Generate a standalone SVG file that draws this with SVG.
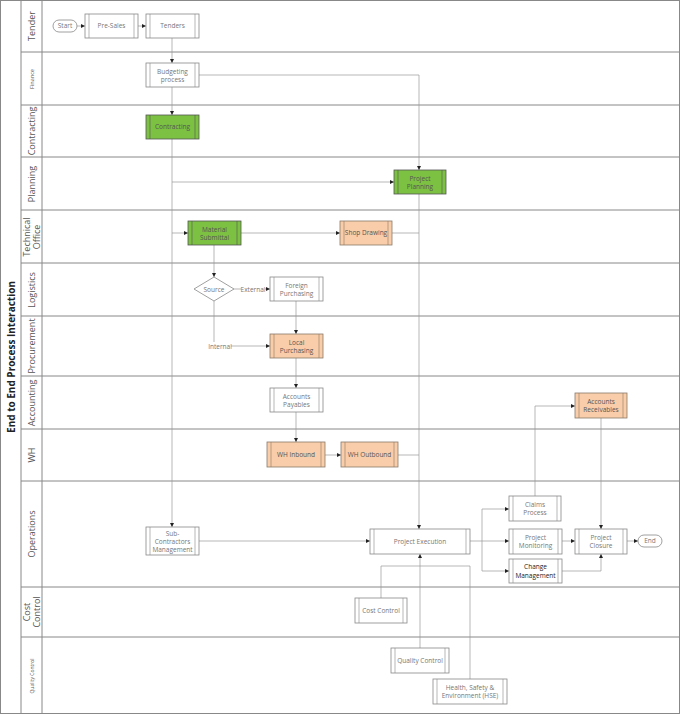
<svg xmlns="http://www.w3.org/2000/svg" width="680" height="714" viewBox="0 0 680 714">
<style>
text{font-family:"Open Sans","Liberation Sans",sans-serif;fill:#777;font-size:6.5px;text-anchor:middle}
.lane{fill:none;stroke:#888;stroke-width:1}
.ll{font-size:9px;fill:#555}
.p{fill:#fff;stroke:#888;stroke-width:0.8}
.g{fill:#7cc142;stroke:#555;stroke-width:0.8}
.o{fill:#f9cda9;stroke:#8a7a6a;stroke-width:0.8}
.c line,.c polyline{fill:none;stroke:#999;stroke-width:0.7}
.ar{marker-end:url(#a)}
.dk{fill:#555}
</style>
<defs>
<marker id="a" markerWidth="4" markerHeight="4" refX="4" refY="2" orient="auto" markerUnits="userSpaceOnUse"><path d="M0,0L4,2L0,4Z" fill="#222"/></marker>
</defs>
<rect width="680" height="714" fill="#fff"/>
<g id="lanes">
<rect x="0.5" y="0.5" width="679" height="713" class="lane"/>
<line x1="21" y1="0" x2="21" y2="714" class="lane"/>
<line x1="42" y1="0" x2="42" y2="714" class="lane"/>
<line x1="21" y1="52" x2="680" y2="52" class="lane"/>
<line x1="21" y1="105" x2="680" y2="105" class="lane"/>
<line x1="21" y1="157" x2="680" y2="157" class="lane"/>
<line x1="21" y1="210" x2="680" y2="210" class="lane"/>
<line x1="21" y1="263" x2="680" y2="263" class="lane"/>
<line x1="21" y1="316" x2="680" y2="316" class="lane"/>
<line x1="21" y1="376" x2="680" y2="376" class="lane"/>
<line x1="21" y1="429" x2="680" y2="429" class="lane"/>
<line x1="21" y1="481" x2="680" y2="481" class="lane"/>
<line x1="21" y1="587" x2="680" y2="587" class="lane"/>
<line x1="21" y1="637" x2="680" y2="637" class="lane"/>
<text transform="translate(14.5,357) rotate(-90)" style="font-size:10px;font-weight:bold;fill:#222">End to End Process Interaction</text>
<text class="ll" transform="translate(35,26) rotate(-90)">Tender</text>
<text class="ll" transform="translate(33.5,79) rotate(-90)" style="font-size:5.5px">Finance</text>
<text class="ll" transform="translate(35,131) rotate(-90)">Contracting</text>
<text class="ll" transform="translate(35,184) rotate(-90)">Planning</text>
<text class="ll" transform="translate(30,237) rotate(-90)">Technical</text>
<text class="ll" transform="translate(39.5,237) rotate(-90)">Office</text>
<text class="ll" transform="translate(35,290) rotate(-90)">Logistics</text>
<text class="ll" transform="translate(35,346) rotate(-90)">Procurement</text>
<text class="ll" transform="translate(35,403) rotate(-90)">Accounting</text>
<text class="ll" transform="translate(35,455) rotate(-90)">WH</text>
<text class="ll" transform="translate(35,534) rotate(-90)">Operations</text>
<text class="ll" transform="translate(30,612) rotate(-90)">Cost</text>
<text class="ll" transform="translate(39.5,612) rotate(-90)">Control</text>
<text class="ll" transform="translate(33.5,676) rotate(-90)" style="font-size:5px">Quality Control</text>
</g>
<g class="c">
<line x1="77" y1="26" x2="85" y2="26" class="ar"/>
<line x1="138" y1="26" x2="146" y2="26" class="ar"/>
<line x1="172" y1="38" x2="172" y2="63" class="ar"/>
<line x1="172" y1="87" x2="172" y2="115" class="ar"/>
<polyline points="199,75 419,75 419,170" class="ar"/>
<line x1="172" y1="139" x2="172" y2="527" class="ar"/>
<line x1="172" y1="182" x2="394" y2="182" class="ar"/>
<line x1="172" y1="233" x2="188" y2="233" class="ar"/>
<line x1="241" y1="233" x2="340" y2="233" class="ar"/>
<line x1="214" y1="245" x2="214" y2="277" class="ar"/>
<line x1="234" y1="289" x2="241" y2="289"/>
<line x1="265" y1="289" x2="270" y2="289" class="ar"/>
<polyline points="214,301 214,342"/>
<line x1="231" y1="346" x2="270" y2="346" class="ar"/>
<line x1="296" y1="301" x2="296" y2="334" class="ar"/>
<line x1="296" y1="358" x2="296" y2="388" class="ar"/>
<line x1="296" y1="412" x2="296" y2="442" class="ar"/>
<line x1="325" y1="455" x2="341" y2="455" class="ar"/>
<line x1="398" y1="455" x2="419" y2="455"/>
<line x1="392" y1="233" x2="419" y2="233"/>
<line x1="419" y1="194" x2="419" y2="529" class="ar"/>
<line x1="199" y1="541" x2="370" y2="541" class="ar"/>
<line x1="470" y1="541" x2="509" y2="541" class="ar"/>
<polyline points="482,571 482,509 509,509" class="ar"/>
<line x1="482" y1="571" x2="509" y2="571" class="ar"/>
<polyline points="535,496 535,406 575,406" class="ar"/>
<line x1="601" y1="418" x2="601" y2="529" class="ar"/>
<line x1="562" y1="541" x2="575" y2="541" class="ar"/>
<polyline points="562,571 601,571 601,554" class="ar"/>
<line x1="627" y1="541" x2="638" y2="541" class="ar"/>
<polyline points="381,598 381,566 470,566 470,679"/>
<line x1="420" y1="648" x2="420" y2="554" class="ar"/>
<text x="253" y="291.5">External</text>
<text x="220" y="348.5">Internal</text>
</g>
<g id="start"><rect x="53" y="20" width="24" height="12" rx="6" class="p"/><text x="65" y="28.3">Start</text></g>
<g id="presales"><rect x="85" y="14" width="53" height="24" class="p"/><path d="M89 14V38M134 14V38" stroke="#888" stroke-width="0.6"/><text x="111.5" y="28.3">Pre-Sales</text></g>
<g id="tenders"><rect x="146" y="14" width="53" height="24" class="p"/><path d="M150 14V38M195 14V38" stroke="#888" stroke-width="0.6"/><text x="172.5" y="28.3">Tenders</text></g>
<g id="budgeting"><rect x="146" y="63" width="53" height="24" class="p"/><path d="M150 63V87M195 63V87" stroke="#888" stroke-width="0.6"/><text x="172.5" y="73.5">Budgeting</text><text x="172.5" y="82">process</text></g>
<g id="contracting"><rect x="146" y="115" width="53" height="24" class="g"/><path d="M150 115V139M195 115V139" stroke="#555" stroke-width="0.6"/><text x="172.5" y="129.3" class="dk">Contracting</text></g>
<g id="planning"><rect x="394" y="170" width="52" height="24" class="g"/><path d="M398 170V194M442 170V194" stroke="#555" stroke-width="0.6"/><text x="420" y="180.5" class="dk">Project</text><text x="420" y="189" class="dk">Planning</text></g>
<g id="material"><rect x="188" y="221" width="53" height="24" class="g"/><path d="M192 221V245M237 221V245" stroke="#555" stroke-width="0.6"/><text x="214.5" y="231.5" class="dk">Material</text><text x="214.5" y="240" class="dk">Submittal</text></g>
<g id="shop"><rect x="340" y="221" width="52" height="24" class="o"/><path d="M344 221V245M388 221V245" stroke="#8a7a6a" stroke-width="0.6"/><text x="366" y="235.3" class="dk">Shop Drawing</text></g>
<g id="source"><path d="M194 289L214 277L234 289L214 301Z" class="p"/><text x="214" y="291.5">Source</text></g>
<g id="foreign"><rect x="270" y="277" width="53" height="24" class="p"/><path d="M274 277V301M319 277V301" stroke="#888" stroke-width="0.6"/><text x="296.5" y="287.5">Foreign</text><text x="296.5" y="296">Purchasing</text></g>
<g id="local"><rect x="270" y="334" width="53" height="24" class="o"/><path d="M274 334V358M319 334V358" stroke="#8a7a6a" stroke-width="0.6"/><text x="296.5" y="344.5" class="dk">Local</text><text x="296.5" y="353" class="dk">Purchasing</text></g>
<g id="ap"><rect x="270" y="388" width="53" height="24" class="p"/><path d="M274 388V412M319 388V412" stroke="#888" stroke-width="0.6"/><text x="296.5" y="398.5">Accounts</text><text x="296.5" y="407">Payables</text></g>
<g id="whin"><rect x="267" y="442" width="58" height="25" class="o"/><path d="M271 442V467M321 442V467" stroke="#8a7a6a" stroke-width="0.6"/><text x="296" y="456.8" class="dk">WH Inbound</text></g>
<g id="whout"><rect x="341" y="442" width="57" height="25" class="o"/><path d="M345 442V467M394 442V467" stroke="#8a7a6a" stroke-width="0.6"/><text x="369.5" y="456.8" class="dk">WH Outbound</text></g>
<g id="ar"><rect x="575" y="393" width="52" height="25" class="o"/><path d="M579 393V418M623 393V418" stroke="#8a7a6a" stroke-width="0.6"/><text x="601" y="403.5" class="dk">Accounts</text><text x="601" y="412" class="dk">Receivables</text></g>
<g id="claims"><rect x="509" y="496" width="52" height="25" class="p"/><path d="M513 496V521M557 496V521" stroke="#888" stroke-width="0.6"/><text x="535" y="506.5">Claims</text><text x="535" y="515">Process</text></g>
<g id="monitoring"><rect x="509" y="529" width="53" height="25" class="p"/><path d="M513 529V554M558 529V554" stroke="#888" stroke-width="0.6"/><text x="535.5" y="539.5">Project</text><text x="535.5" y="548">Monitoring</text></g>
<g id="change"><rect x="509" y="559" width="53" height="24" class="p"/><path d="M513 559V583M558 559V583" stroke="#888" stroke-width="0.6"/><text x="535.5" y="569" style="fill:#222">Change</text><text x="535.5" y="577.5" style="fill:#222">Management</text></g>
<g id="closure"><rect x="575" y="529" width="52" height="25" class="p"/><path d="M579 529V554M623 529V554" stroke="#888" stroke-width="0.6"/><text x="601" y="539.5">Project</text><text x="601" y="548">Closure</text></g>
<g id="end"><rect x="638" y="535" width="24" height="12" rx="6" class="p"/><text x="650" y="543.3">End</text></g>
<g id="subcon"><rect x="146" y="527" width="53" height="28" class="p"/><path d="M150 527V555M195 527V555" stroke="#888" stroke-width="0.6"/><text x="172.5" y="535.5">Sub-</text><text x="172.5" y="543.5">Contractors</text><text x="172.5" y="551.5">Management</text></g>
<g id="execution"><rect x="370" y="529" width="100" height="25" class="p"/><path d="M374 529V554M466 529V554" stroke="#888" stroke-width="0.6"/><text x="420" y="543.8">Project Execution</text></g>
<g id="cost"><rect x="355" y="598" width="52" height="25" class="p"/><path d="M359 598V623M403 598V623" stroke="#888" stroke-width="0.6"/><text x="381" y="612.8">Cost Control</text></g>
<g id="quality"><rect x="391" y="648" width="58" height="25" class="p"/><path d="M395 648V673M445 648V673" stroke="#888" stroke-width="0.6"/><text x="420" y="662.8">Quality Control</text></g>
<g id="hse"><rect x="433" y="679" width="74" height="25" class="p"/><path d="M437 679V704M503 679V704" stroke="#888" stroke-width="0.6"/><text x="470" y="689.5">Health, Safety &amp;</text><text x="470" y="698">Environment (HSE)</text></g>
</svg>
